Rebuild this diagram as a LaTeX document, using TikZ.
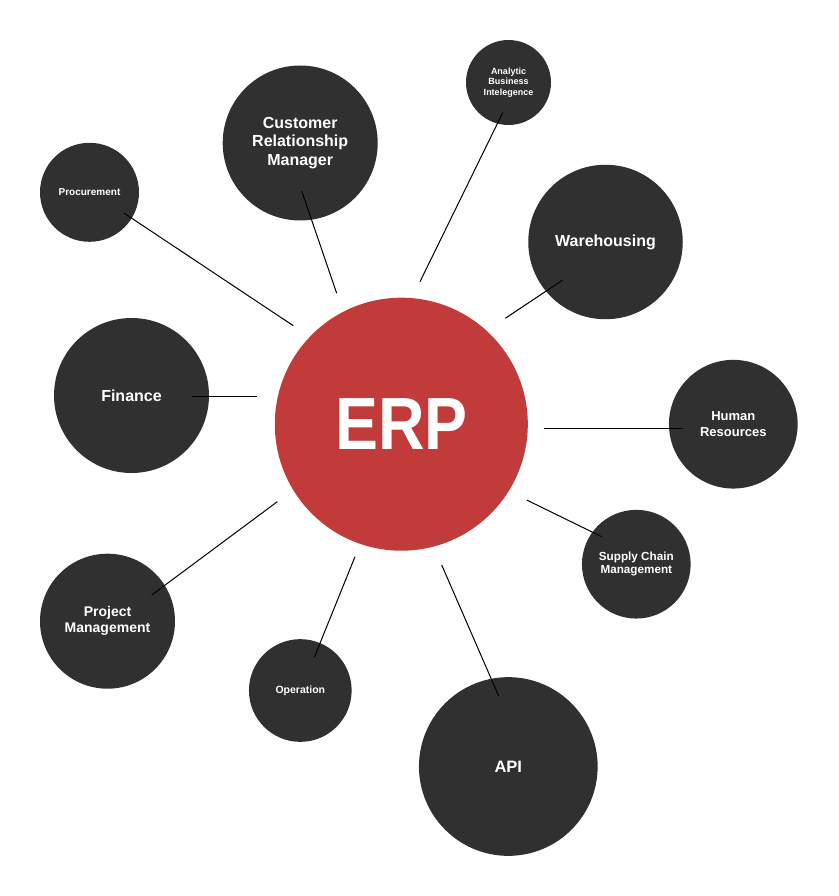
\documentclass[tikz,border=0pt]{standalone}
\usepackage{fontspec}
\setmainfont{Liberation Sans}
\definecolor{erpred}{RGB}{193,59,58}
\definecolor{bubble}{RGB}{47,48,47}
\tikzset{
  bub/.style={circle, fill=bubble, draw=none, inner sep=0pt, text=white, align=center, font=\bfseries},
  link/.style={draw=black, line width=1pt},
}
\newcommand{\fs}[2]{\fontsize{#1}{#2}\selectfont\bfseries}
\begin{document}
\begin{tikzpicture}[x=1pt,y=-1pt]
\useasboundingbox (0,0) rectangle (838,896);
% central node
\node[circle, fill=erpred, inner sep=0pt, minimum size=253pt, text=white,
      font=\fontsize{74}{80}\selectfont\bfseries] (erp) at (401.3,424.2) {\scalebox{0.87}[1]{ERP}};
% satellites
\node[bub, minimum size=155pt, font=\fs{16}{18.8}] (crm) at (300.2,143) {Customer\\Relationship\\Manager};
\node[bub, minimum size=85pt, font=\fs{9}{10.7}] (abi) at (508.5,82.5) {Analytic\\Business\\Intelegence};
\node[bub, minimum size=99pt, font=\fs{10}{12}] (proc) at (89.5,192.3) {Procurement};
\node[bub, minimum size=154.5pt, font=\fs{16}{18.8}] (ware) at (605.5,242) {Warehousing};
\node[bub, minimum size=155pt, font=\fs{16}{18.8}] (fin) at (131.5,395.5) {Finance};
\node[bub, minimum size=128.7pt, font=\fs{13}{15.7}] (hr) at (733.3,424.2) {Human\\Resources};
\node[bub, minimum size=108.7pt, font=\fs{11.7}{13.3}] (scm) at (636.3,564.2) {Supply Chain\\Management};
\node[bub, minimum size=135pt, font=\fs{14}{15.7}] (pm) at (107.5,621.2) {Project\\Management};
\node[bub, minimum size=102.7pt, font=\fs{10.5}{12}] (op) at (300.3,690.5) {Operation};
\node[bub, minimum size=178.7pt, font=\fs{16.5}{18.8}] (api) at (508.3,766.5) {API};
% connector end points
\coordinate (procA) at (124.3,213.3);  \coordinate (procB) at (293.3,325.7);
\coordinate (crmA)  at (301.7,191);    \coordinate (crmB)  at (336.7,293.3);
\coordinate (abiA)  at (502.7,112.7);  \coordinate (abiB)  at (420,281.7);
\coordinate (wareA) at (562.7,280);    \coordinate (wareB) at (505.3,318.3);
\coordinate (finA)  at (191.7,396.3);  \coordinate (finB)  at (256.7,396.3);
\coordinate (hrA)   at (682.7,428.3);  \coordinate (hrB)   at (544.3,428.3);
\coordinate (scmA)  at (601.7,536.7);  \coordinate (scmB)  at (526.7,500);
\coordinate (pmA)   at (151.7,595);    \coordinate (pmB)   at (277.3,501.7);
\coordinate (opA)   at (314.3,657.3);  \coordinate (opB)   at (355,556.7);
\coordinate (apiA)  at (498.7,696);    \coordinate (apiB)  at (441.7,565);
% connectors
\draw[link] (procA) -- (procB);
\draw[link] (crmA) -- (crmB);
\draw[link] (abiA) -- (abiB);
\draw[link] (wareA) -- (wareB);
\draw[link] (finA) -- (finB);
\draw[link] (hrA) -- (hrB);
\draw[link] (scmA) -- (scmB);
\draw[link] (pmA) -- (pmB);
\draw[link] (opA) -- (opB);
\draw[link] (apiA) -- (apiB);
\end{tikzpicture}
\end{document}
